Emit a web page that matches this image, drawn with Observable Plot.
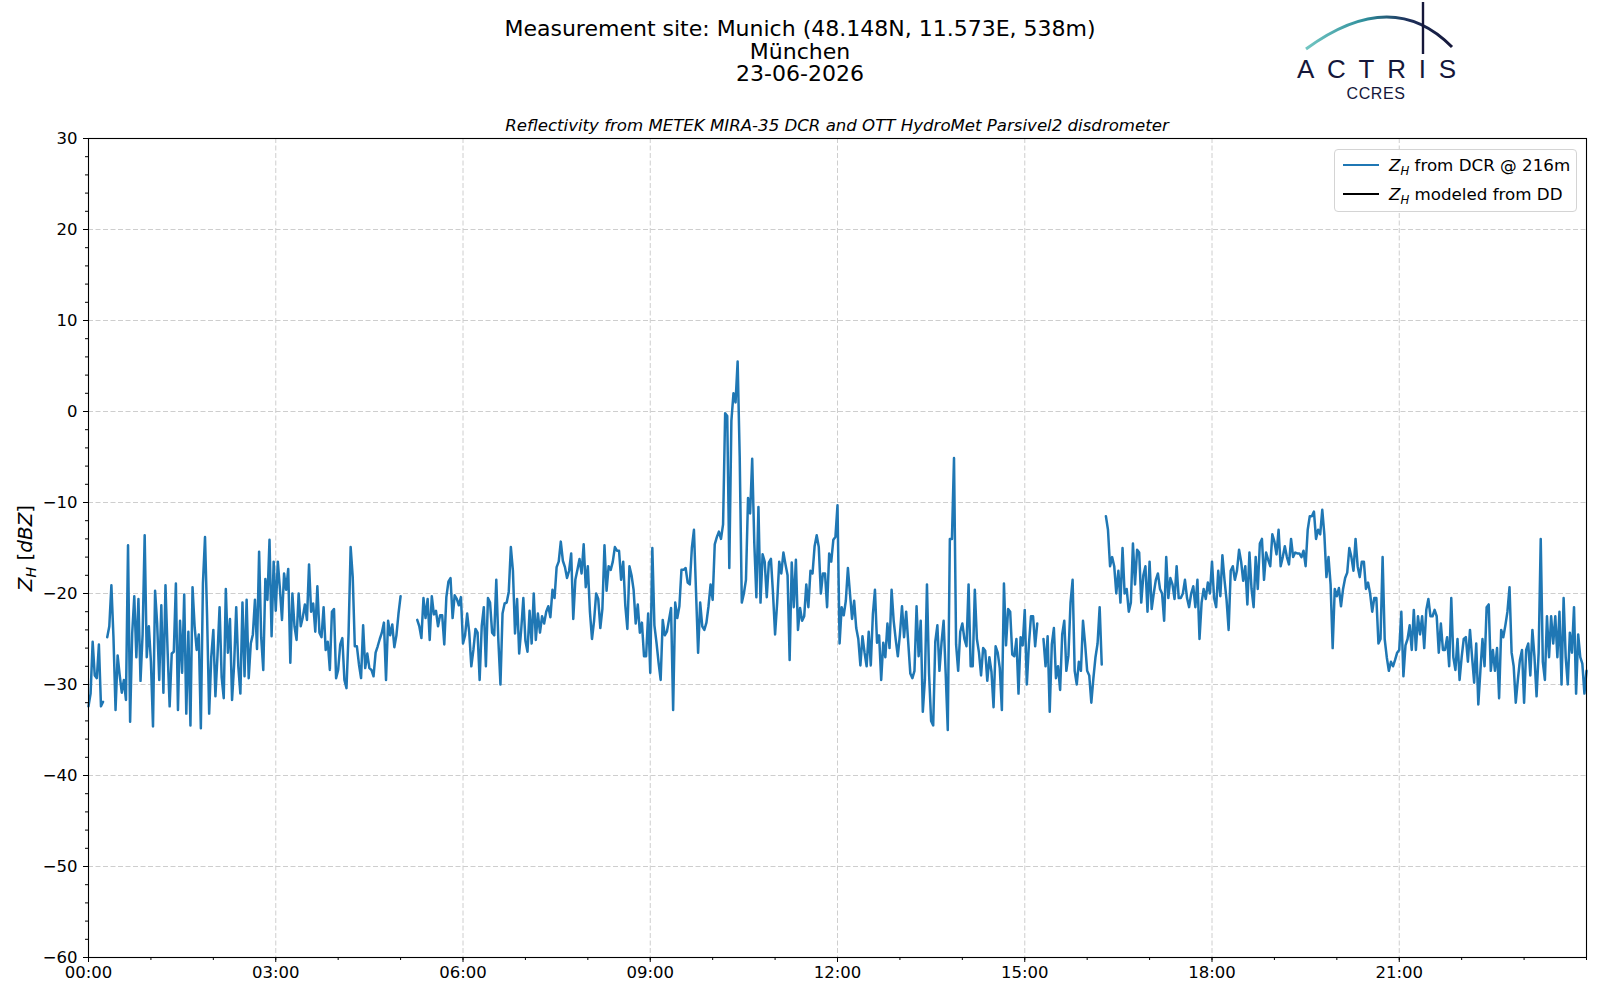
<!DOCTYPE html>
<html><head><meta charset="utf-8">
<script src="https://cdn.jsdelivr.net/npm/d3@7"></script>
<script src="https://cdn.jsdelivr.net/npm/@observablehq/plot@0.6"></script>
<style>
body{margin:0;background:#fff;font-family:"DejaVu Sans",sans-serif;color:#000;}
#wrap{position:relative;width:1600px;height:1000px;overflow:hidden;}
#chart{position:absolute;left:0;top:0;}
.abs{position:absolute;white-space:nowrap;}
.c{transform:translate(-50%,-50%);}
.title{font-size:22px;line-height:1;}
.sub{font-size:16.6px;font-style:italic;line-height:1;}
.ylab{font-size:20px;transform:translate(-50%,-50%) rotate(-90deg);}
#legend{position:absolute;left:1334px;top:149px;width:241px;height:61px;border:1px solid #d4d4d4;border-radius:4px;background:rgba(255,255,255,0.85);}
.li{position:absolute;left:8px;width:36px;height:2.2px;}
.lt{position:absolute;left:54px;font-size:16.7px;transform:translateY(-50%);white-space:nowrap;}
sub{font-size:0.7em;vertical-align:-0.3em;line-height:0;}
</style></head>
<body><div id="wrap">
<div id="chart"></div>
<div class="abs c title" style="left:800px;top:29px;">Measurement site: Munich (48.148N, 11.573E, 538m)</div>
<div class="abs c title" style="left:800px;top:51.5px;">München</div>
<div class="abs c title" style="left:800px;top:74px;">23-06-2026</div>
<div class="abs c sub" style="left:837px;top:126px;">Reflectivity from METEK MIRA-35 DCR and OTT HydroMet Parsivel2 disdrometer</div>
<div class="abs ylab" style="left:25px;top:548px;"><i>Z</i><sub><i>H</i></sub> [<i>dBZ</i>]</div>
<div id="legend">
  <div class="li" style="top:14px;background:#1f77b4;"></div>
  <div class="lt" style="top:15px;"><i>Z</i><sub><i>H</i></sub> from DCR @ 216m</div>
  <div class="li" style="top:43px;background:#000;"></div>
  <div class="lt" style="top:44px;"><i>Z</i><sub><i>H</i></sub> modeled from DD</div>
</div>
<svg class="abs" style="left:0;top:0;" width="1600" height="110">
  <defs><linearGradient id="arcg" x1="1306" y1="0" x2="1452" y2="0" gradientUnits="userSpaceOnUse">
    <stop offset="0" stop-color="#72c6c2"/><stop offset="0.4" stop-color="#2f8f9c"/><stop offset="0.7" stop-color="#1d2f5a"/><stop offset="1" stop-color="#15173a"/></linearGradient></defs>
  <path d="M1306,49 Q1392,-14 1452,47" fill="none" stroke="url(#arcg)" stroke-width="3"/>
  <line x1="1423" y1="2" x2="1423" y2="54" stroke="#15173a" stroke-width="2.4"/>
  <text x="1297" y="78.3" font-family="Liberation Sans" font-size="26" fill="#15173a" textLength="159" lengthAdjust="spacing">ACTRIS</text>
  <text x="1376" y="98.5" font-family="Liberation Sans" font-size="16" fill="#15173a" text-anchor="middle" letter-spacing="0.6">CCRES</text>
</svg>
</div>
<script>
// Reflectivity Z_H from DCR @ 216 m, 2-minute samples starting 00:00 UTC (null = no data)
const segA = [-32.4,-31,-25.3,-29,-29.3,-25.6,-32.4,-31.9,null,-24.8,-23.6,-19.1,-24.8,-32.8,-26.8,-29,-30.9,-29.5,-31.7,-14.7,-34.1,-24.4,-20.3,-27,-20.6,-29.6,-24.5,-13.6,-27,-23.6,-27.5,-34.6,-19.7,-23.3,-29.5,-21.3,-30.9,-19.1,-26.2,-32.4,-26.6,-26.4,-18.9,-32.8,-23,-28.7,-20.1,-33.2,-24.2,-34.5,-19.3,-23.6,-26.2,-24.5,-34.8,-18.9,-13.8,-22.5,-33.2,-27,-24,-31.3,-26.8,-21.5,-29.2,-31.5,-19.5,-26.5,-22.8,-31.7,-27.8,-21.5,-28,-31,-21,-29.1,-20.7,-29.3,-25.5,-24.5,-20.7,-26.1,-15.4,-24.8,-28.4,-18.4,-20.7,-14.1,-24.7,-16.5,-21.9,-16.5,-19.5,-22.9,-17.8,-19.6,-17.3,-27.6,-20.0,-23.6,-25.1,-20.0,-23.6,-22.6,-21.2,-22.9,-16.8,-22.0,-21.1,-24.2,-19.2,-24.3,-24.8,-21.5,-26.2,-25.3,-28.4];
const segB = [-22,-21.7,-29.3,-28.4,-25.6,-24.9,-29.5,-30.4,-24.4,-14.9,-18.2,-25.8,-25.8,-27.8,-29.3,-23.5,-28.2,-26.6,-28.2,-28.4,-29.1,-26.5,-25.8,-25.0,-24.3,-23.2,-29.5,-23.0,-24.6,-23.4,-25.9,-24.6,-22.2,-20.3,null,null,null,null,null,null,null,-22.9,-23.6,-24.9,-20.5,-22.7,-20.6,-25.1,-20.3,-22.3,-21.9,-23.6,-22.4,-22.4,-25.6,-20.4,-18.7,-18.3,-22.7,-20.2,-20.6,-21.3,-20.4,-25.5,-24.6,-22.2,-24.3,-28.0,-26.2,-23.9,-24.3,-29.5,-23.6,-21.5,-28.0,-20.5,-21.0,-24.3,-24.6,-18.5,-25.2,-30.0,-22.2,-21.1,-21.0,-19.8,-14.9,-17.5,-24.4,-20.6,-26.6,-23.9,-20.5,-25.2,-26.4,-21.9,-25.5,-20.0,-25.1,-22.2,-24.3,-22.5,-23.3,-22.0,-21.4,-22.6,-19.6,-20.5,-17.1,-16.5,-14.3,-16.4,-17.1,-18.3,-17.5,-15.6,-22.8,-18.5];
const segC = [-17.4,-16.2,-17.8,-14.6,-19.3,-17.0,-22.0,-25.0,-23.0,-20.0,-20.6,-23.8,-21.7,-14.7,-19.7,-17.0,-17.4,-16.5,-14.9,-15.3,-15.3,-18.5,-16.5,-21.3,-23.9,-17.0,-18.0,-19.6,-23.3,-21.2,-24.3,-23.2,-26.9,-26.9,-22.2,-28.7,-15.0,-23.5,-25.4,-27.6,-29.5,-22.9,-24.6,-24.2,-22.9,-21.6,-32.8,-21.0,-22.7,-21.4,-17.4,-17.4,-17.2,-18.8,-19.0,-15.0,-13.0,-19.8,-26.5,-21.0,-23.6,-24.0,-23.2,-21.4,-19.0,-20.7,-14.6,-13.8,-13.2,-14.0,-12.4,-0.2,-0.5,-17.2,-1.0,2.0,1.0,5.5,-5.0,-21.0,-20.0,-18.5,-9.5,-11.2,-5.2,-14.4,-20.4,-10.5,-21.0,-15.7,-16.5,-20.4,-16.6,-16.2,-20.0,-24.5,-21.0,-16.5,-17.8,-15.5,-16.8,-18.0,-27.3,-16.6,-21.5,-16.3,-24.0,-21.6,-23.0,-22.5,-19.0,-21.5,-17.5,-17.8,-14.8,-13.6,-14.9];
const segD = [-20.0,-17.8,-17.8,-21.5,-15.6,-16.5,-14.1,-13.8,-10.3,-25.5,-21.5,-22.4,-20.8,-17.2,-20.0,-22.8,-20.8,-23.8,-25.0,-27.9,-24.7,-26.5,-28.0,-24.2,-27.9,-22.3,-19.6,-25.4,-24.6,-29.5,-25.4,-27.0,-23.3,-26.0,-19.6,-23.0,-25.1,-26.9,-24.5,-21.4,-24.8,-22.0,-25.4,-28.8,-29.3,-28.5,-21.4,-26.9,-23.0,-33.0,-29.5,-19.0,-28.8,-34.0,-34.5,-25.3,-23.5,-28.5,-25.4,-23.0,-28.8,-35.0,-14.0,-14.0,-5.1,-25.6,-28.5,-24.2,-23.3,-25.0,-25.8,-19.0,-28.0,-28.0,-19.6,-25.0,-26.5,-29.0,-26.0,-26.3,-29.6,-27.0,-28.6,-32.5,-25.8,-26.5,-28.2,-32.8,-18.9,-25.7,-21.7,-22.0,-26.7,-26.9,-25.0,-31.0,-24.8,-25.7,-21.8,-30.0,-25.6,-22.5,-22.5,-25.8,-23.3,null,null,-25.0,-28.0,-24.7,-33.0,-25.6,-23.8,-29.3,-28.0,-30.6,-24.5,-23.0];
const segE = [-28.5,-26.8,-21.0,-18.5,-28.5,-30.0,-27.5,-28.5,-23.0,-25.5,-28.5,-29.0,-32.0,-29.3,-27.0,-25.5,-21.5,-27.8,null,-11.5,-13.0,-17.0,-16.0,-17.0,-20.0,-17.5,-21.0,-15.0,-20.0,-19.5,-22.0,-21.0,-14.5,-19.0,-15.2,-15.5,-21.0,-18.0,-17.0,-22.0,-16.5,-21.7,-20.0,-18.5,-17.8,-19.5,-20.0,-23.0,-16.0,-20.5,-18.3,-19.0,-20.6,-17.0,-20.5,-20.5,-20.0,-18.5,-20.5,-21.5,-20.0,-19.2,-21.5,-18.5,-25.0,-21.0,-19.5,-20.6,-18.8,-20.0,-16.5,-20.5,-21.5,-17.5,-20.3,-15.8,-18.5,-20.7,-24.0,-17.5,-17.0,-18.5,-17.5,-15.2,-16.5,-18.6,-17.0,-21.2,-15.5,-19.5,-21.5,-16.0,-19.5,-14.5,-14.0,-18.5,-15.5,-16.3,-17.0,-13.5,-14.3,-15.7,-13.0,-17.0,-16.0,-14.8,-16.0,-16.8,-14.0,-16.0,-15.5,-15.6,-15.6,-16.0,-15.3,-17.0,-13.0,-11.5];
const segF = [-11.5,-11.0,-14.0,-13.0,-13.5,-10.8,-13.5,-18.2,-16.0,-19.0,-26.0,-19.5,-20.3,-19.4,-21.4,-19.5,-18.3,-17.7,-15.0,-16.0,-17.5,-14.0,-17.0,-18.2,-16.5,-16.5,-19.5,-18.8,-20.0,-22.0,-20.5,-20.5,-25.5,-25.0,-16.0,-25.0,-27.0,-28.5,-27.5,-28.0,-27.3,-26.5,-26.2,-22.0,-29.1,-25.7,-25.0,-23.5,-26.2,-21.8,-26.2,-22.5,-24.5,-22.5,-26.0,-21.8,-20.6,-22.5,-22.5,-21.8,-22.5,-26.5,-23.3,-26.2,-26.2,-24.8,-28.0,-20.5,-27.0,-28.4,-25.0,-29.5,-27.0,-25.0,-24.8,-27.5,-24.0,-27.0,-29.8,-25.5,-32.2,-28.5,-25.0,-28.0,-21.5,-21.2,-28.5,-26.2,-28.5,-26.0,-31.5,-24.0,-24.8,-23.5,-22.0,-19.3,-26.5,-28.0,-32.0,-29.5,-27.3,-26.2,-32.0,-26.2,-25.5,-29.0,-24.0,-27.0,-31.3,-26.5,-14.0,-27.5,-29.5,-22.5,-27.0,-22.5,-25.5,-22.5];
const segG = [-27,-22.0,-30.0,-20.5,-27.0,-30.0,-24.3,-26.5,-21.5,-31.0,-24.5,-27.0,-27.7,-31.0,-28.5];
const zhDCR = [...segA, ...segB, ...segC, ...segD, ...segE, ...segF, ...segG];
const zhDD = []; // no disdrometer-modelled values on this day

const sampleMinutes = 2;
const dayStart = Date.UTC(2026, 5, 23);
const dayEnd = Date.UTC(2026, 5, 24);
const xMajorHours = [0, 3, 6, 9, 12, 15, 18, 21];
const xMinorHours = d3.range(0, 25, 1);
const yMajorTicks = [-60, -50, -40, -30, -20, -10, 0, 10, 20, 30];
const yMinorTicks = d3.range(-60, 31, 2);
const yGrid = [-50, -40, -30, -20, -10, 0, 10, 20];

const hourDate = h => new Date(dayStart + h * 3600000);
const series = zhDCR.map((v, i) => ({time: new Date(dayStart + i * sampleMinutes * 60000), zh: v}));

const gridStyle = {stroke: "#c8c8c8", strokeOpacity: 1, strokeWidth: 0.9, strokeDasharray: "5,2.5"};
const chart = Plot.plot({
  width: 1600, height: 1000,
  marginLeft: 88, marginRight: 14, marginTop: 138, marginBottom: 43,
  style: {fontFamily: "DejaVu Sans", fontSize: "16.5px", color: "#000", background: "transparent", overflow: "visible"},
  x: {type: "utc", domain: [new Date(dayStart), new Date(dayEnd)]},
  y: {domain: [-60, 30]},
  marks: [
    Plot.gridX(xMajorHours.slice(1).map(hourDate), gridStyle),
    Plot.gridY(yGrid, gridStyle),
    Plot.line(series, {x: "time", y: "zh", stroke: "#1f77b4", strokeWidth: 2.5, strokeLinejoin: "round"}),
    Plot.axisX(xMinorHours.map(hourDate), {tickSize: 3, tickFormat: () => "", label: null, stroke: "#000"}),
    Plot.axisX(xMajorHours.map(hourDate), {tickSize: 5, tickPadding: 4, tickFormat: d3.utcFormat("%H:%M"), label: null, stroke: "#000", fill: "#000"}),
    Plot.axisY(yMinorTicks, {tickSize: 3, tickFormat: () => "", label: null, stroke: "#000"}),
    Plot.axisY(yMajorTicks, {tickSize: 5, tickPadding: 6, tickFormat: d3.format("d"), label: null, stroke: "#000", fill: "#000"}),
    Plot.frame({stroke: "#000", strokeWidth: 1.1})
  ]
});
document.getElementById("chart").appendChild(chart);
</script>
</body></html>
